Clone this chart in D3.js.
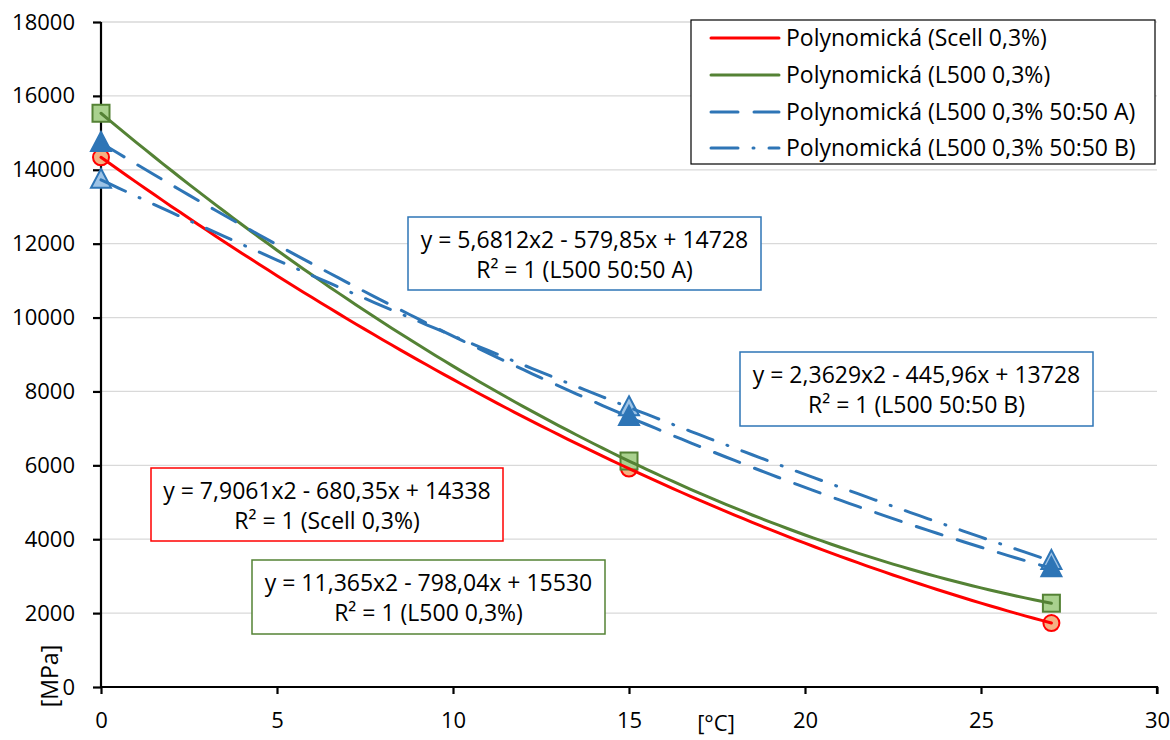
<!DOCTYPE html>
<html>
<head>
<meta charset="utf-8">
<script src="https://cdn.jsdelivr.net/npm/d3@7"></script>
<style>
  body { margin: 0; background: #fff; }
  text { font-family: "Open Sans", "Noto Sans", sans-serif; fill: #000; }
</style>
</head>
<body>
<svg id="chart" width="1170" height="740"></svg>
<script>
// Measured points (temperature in °C, modulus in MPa)
const temperatures = [0, 15, 27];
const scellValues = [14338, 5912, 1732];
const l500Values  = [15530, 6117, 2268];
const mixAValues  = [14728, 7309, 3214];
const mixBValues  = [13728, 7570, 3410];

// Quadratic trendline coefficients [a, b, c] for y = a·x² + b·x + c
const scellFit = [7.9061, -680.35, 14338];
const l500Fit  = [11.365, -798.04, 15530];
const mixAFit  = [5.6812, -579.85, 14728];
const mixBFit  = [2.3629, -445.96, 13728];

const xTicks = [0, 5, 10, 15, 20, 25, 30];
const yTicks = [0, 2000, 4000, 6000, 8000, 10000, 12000, 14000, 16000, 18000];

const legendLabels = [
  "Polynomická (Scell 0,3%)",
  "Polynomická (L500 0,3%)",
  "Polynomická (L500 0,3% 50:50 A)",
  "Polynomická (L500 0,3% 50:50 B)"
];
const equationLines = [
  ["y = 7,9061x2 - 680,35x + 14338", "R² = 1 (Scell 0,3%)"],
  ["y = 11,365x2 - 798,04x + 15530", "R² = 1 (L500 0,3%)"],
  ["y = 5,6812x2 - 579,85x + 14728", "R² = 1 (L500 50:50 A)"],
  ["y = 2,3629x2 - 445,96x + 13728", "R² = 1 (L500 50:50 B)"]
];

const series = [
  { values: scellValues, fit: scellFit, line: "#ff0000", dash: null,
    marker: "circle", mStroke: "#ff0000", mFill: "#f4b183",
    box: { x: 151, y: 468, w: 352, h: 73 } },
  { values: l500Values, fit: l500Fit, line: "#548235", dash: null,
    marker: "square", mStroke: "#548235", mFill: "#a9d18e",
    box: { x: 252, y: 560, w: 353, h: 74 } },
  { values: mixAValues, fit: mixAFit, line: "#2e75b6", dash: "27 16",
    marker: "triangle", mStroke: "#2e75b6", mFill: "#2e75b6",
    box: { x: 408, y: 217, w: 353, h: 73 } },
  { values: mixBValues, fit: mixBFit, line: "#2e75b6", dash: "27 15 1 15",
    marker: "triangle", mStroke: "#2e75b6", mFill: "#9dc3e6",
    box: { x: 740, y: 352, w: 353, h: 74 } }
];

const svg = d3.select("#chart");
const plotLeft = 101, plotRight = 1157, plotTop = 22, plotBottom = 687;
const tickFont = 22, labelFont = 23;

const x = d3.scaleLinear().domain([0, 30]).range([plotLeft, plotRight]);
const y = d3.scaleLinear().domain([0, 18000]).range([plotBottom, plotTop]);

// horizontal gridlines
svg.append("g")
  .selectAll("line")
  .data(yTicks.filter(d => d > 0))
  .join("line")
  .attr("x1", plotLeft).attr("x2", plotRight)
  .attr("y1", d => y(d)).attr("y2", d => y(d))
  .attr("stroke", "#d9d9d9").attr("stroke-width", 1.3);

// axes
const yAxis = svg.append("g")
  .attr("transform", `translate(${plotLeft},0)`)
  .call(d3.axisLeft(y).tickValues(yTicks).tickSize(8).tickPadding(18).tickFormat(d3.format("d")));
const xAxis = svg.append("g")
  .attr("transform", `translate(0,${plotBottom})`)
  .call(d3.axisBottom(x).tickValues(xTicks).tickSize(7).tickPadding(18).tickFormat(d3.format("d")));

[yAxis, xAxis].forEach(g => {
  g.select(".domain").attr("stroke", "#000").attr("stroke-width", 2.2);
  g.selectAll(".tick line").attr("stroke", "#000").attr("stroke-width", 2.2);
  g.selectAll(".tick text").attr("font-size", tickFont).attr("font-family", "\"Open Sans\", sans-serif").attr("fill", "#000");
});
yAxis.select(".domain").attr("d", `M0,${plotBottom}V${plotTop}`);
xAxis.select(".domain").attr("d", `M${plotLeft},0H${plotRight}V7`);

// axis titles
svg.append("text")
  .attr("x", 716).attr("y", 731)
  .attr("text-anchor", "middle")
  .attr("font-size", 22)
  .text("[°C]");
svg.append("text")
  .attr("transform", "translate(58,676) rotate(-90)")
  .attr("text-anchor", "middle")
  .attr("font-size", labelFont)
  .text("[MPa]");

// markers
const markerLayer = svg.append("g");
const drawOrder = [0, 1, 3, 2];
drawOrder.forEach(i => {
  const s = series[i];
  temperatures.forEach((t, j) => {
    const cx = x(t), cy = y(s.values[j]);
    let shape;
    if (s.marker === "circle") {
      shape = markerLayer.append("circle").attr("cx", cx).attr("cy", cy).attr("r", 8);
    } else if (s.marker === "square") {
      shape = markerLayer.append("rect").attr("x", cx - 8.5).attr("y", cy - 8.5).attr("width", 17).attr("height", 17);
    } else {
      shape = markerLayer.append("path")
        .attr("d", `M${cx},${cy - 11}L${cx + 10},${cy + 8}L${cx - 10},${cy + 8}Z`);
    }
    shape.attr("fill", s.mFill).attr("stroke", s.mStroke).attr("stroke-width", 2);
  });
});

// trendlines from the stated polynomial coefficients
const line = d3.line().x(d => x(d[0])).y(d => y(d[1])).curve(d3.curveLinear);
const xs = d3.range(0, 27.001, 0.25);
series.forEach(s => {
  const [a, b, c] = s.fit;
  const pts = xs.map(t => [t, a * t * t + b * t + c]);
  svg.append("path")
    .attr("d", line(pts))
    .attr("fill", "none")
    .attr("stroke", s.line)
    .attr("stroke-width", 3)
    .attr("stroke-linecap", "round")
    .attr("stroke-dasharray", s.dash);
});

// equation labels
series.forEach((s, i) => {
  const g = svg.append("g");
  g.append("rect")
    .attr("x", s.box.x).attr("y", s.box.y)
    .attr("width", s.box.w).attr("height", s.box.h)
    .attr("fill", "#fff").attr("stroke", s.line).attr("stroke-width", 1.5);
  equationLines[i].forEach((txt, k) => {
    g.append("text")
      .attr("x", s.box.x + s.box.w / 2)
      .attr("y", s.box.y + 31 + k * 30)
      .attr("text-anchor", "middle")
      .attr("font-size", labelFont)
      .text(txt);
  });
});

// legend
const legend = svg.append("g");
legend.append("rect")
  .attr("x", 691).attr("y", 20).attr("width", 464).attr("height", 144)
  .attr("fill", "#fff").attr("stroke", "#000").attr("stroke-width", 1.2);
const rowY = [38, 75, 112, 148];
series.forEach((s, i) => {
  legend.append("line")
    .attr("x1", 711).attr("x2", 779)
    .attr("y1", rowY[i]).attr("y2", rowY[i])
    .attr("stroke", s.line).attr("stroke-width", 3)
    .attr("stroke-linecap", "round")
    .attr("stroke-dasharray", s.dash);
  legend.append("text")
    .attr("x", 786).attr("y", rowY[i] + 8)
    .attr("font-size", labelFont)
    .text(legendLabels[i]);
});
</script>
</body>
</html>
